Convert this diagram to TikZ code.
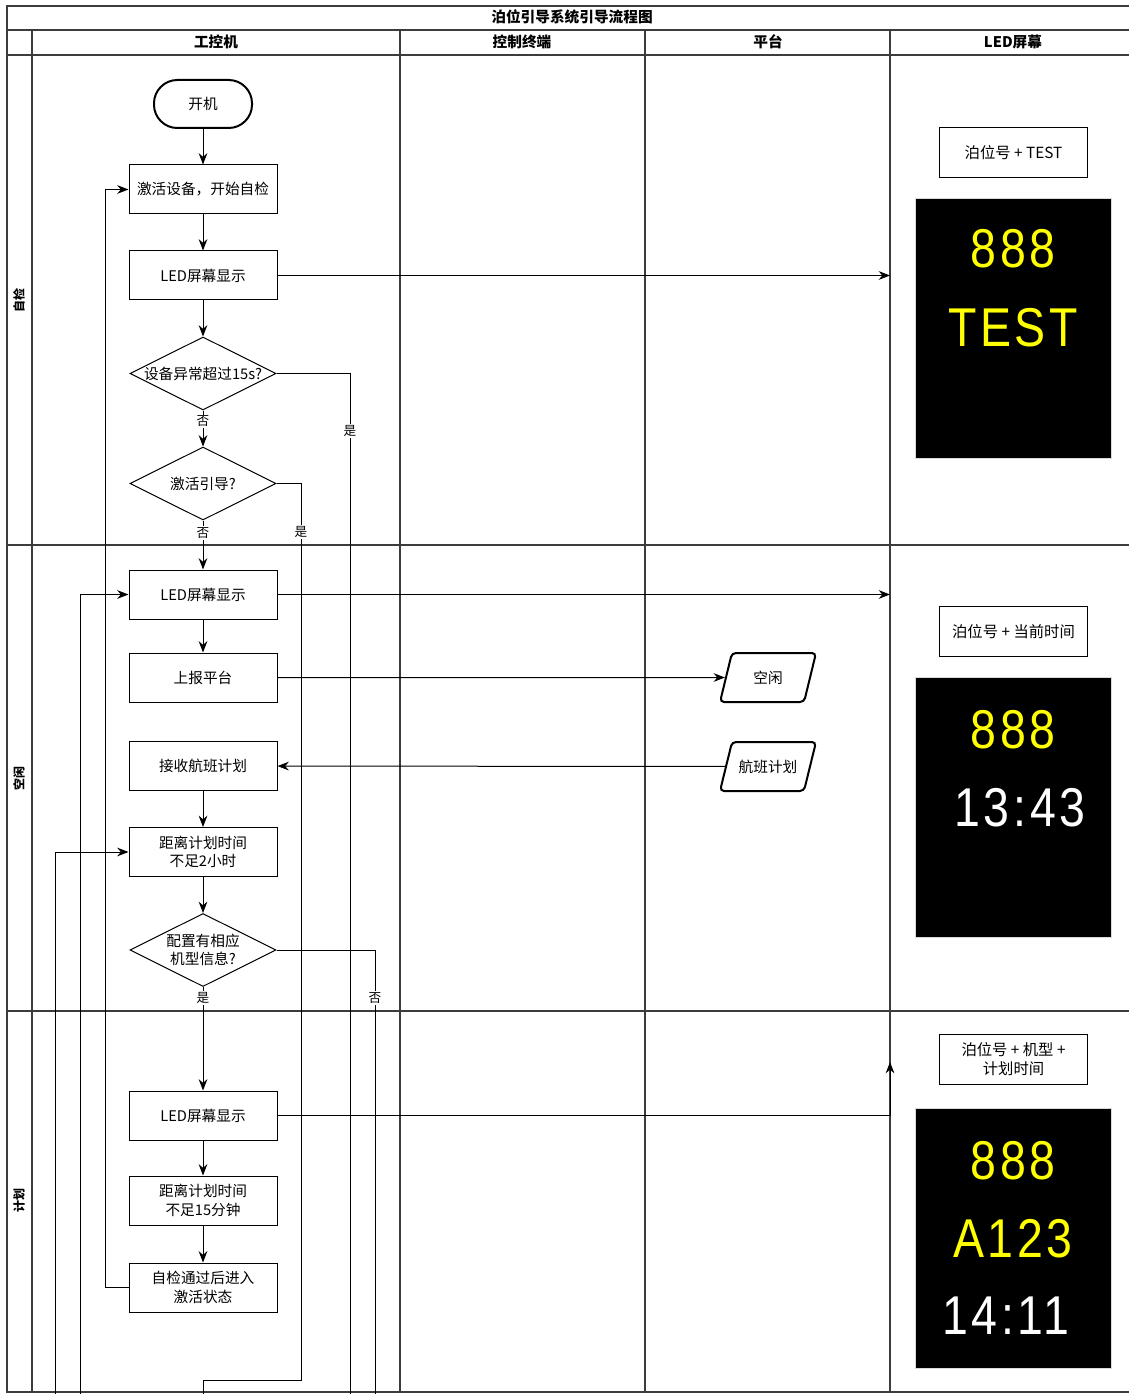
\documentclass[tikz,border=0pt]{standalone}
\usepackage{fontspec}
\setmainfont{Noto Sans CJK SC}
\newfontfamily\ledfont[LetterSpace=8]{Liberation Sans}
\usetikzlibrary{arrows.meta}
\usetikzlibrary{shapes}
\definecolor{ledyellow}{RGB}{255,255,0}
\definecolor{framegray}{RGB}{60,60,60}

\tikzset{
  flow/.style={-{Stealth[length=8.5pt,width=6.5pt]}, line width=0.75pt},
  plain/.style={line width=0.75pt},
  lane/.style={draw=framegray, line width=0.9pt},
  txt/.style={font=\fontsize{11}{14}\selectfont},
  proc/.style={draw, txt, line width=0.75pt, minimum width=111pt, minimum height=36.75pt, align=center, inner sep=1pt},
  term/.style={draw, txt, rectangle, rounded corners=17.5pt, line width=1.5pt, minimum width=73.5pt, minimum height=36pt},
  dtext/.style={txt, align=center, inner sep=0pt},
  decision/.style={draw, diamond, line width=0.75pt, minimum width=109.5pt, minimum height=54.75pt, inner sep=0pt, label={[dtext]center:#1}},
  io/.style={draw, txt, trapezium, trapezium left angle=62, trapezium right angle=118, trapezium stretches body=true, rounded corners=3pt, line width=1.5pt, minimum width=72pt, minimum height=36.75pt},
  lbl/.style={fill=white, inner sep=1pt, font=\fontsize{9.5}{9.5}\selectfont},
  capbox/.style={draw, line width=0.75pt, minimum width=111pt, minimum height=37.5pt, align=center, font=\fontsize{11.5}{14}\selectfont},
  screen/.style={fill=black, draw=black!15, minimum width=147pt, minimum height=195pt},
  ledtxt/.style={inner sep=0pt, font=\fontsize{41}{41}\ledfont},
  head/.style={font=\fontsize{11}{13}\selectfont\bfseries},
  lanename/.style={rotate=90, font=\fontsize{9}{11}\selectfont\bfseries},
}

\begin{document}
\begin{tikzpicture}[x=0.75pt,y=0.75pt,yscale=-1,xscale=1]
\useasboundingbox (0,0) rectangle (1129,1394);

%Swimlane frame
\draw [lane] (1129,6) -- (7,6) -- (7,1392) -- (1129,1392) ;
\draw [lane] (7,30) -- (1129,30) ;
\draw [lane] (7,55) -- (1129,55) ;
\draw [lane] (7,545) -- (1129,545) ;
\draw [lane] (7,1011) -- (1129,1011) ;
\foreach \lx in {32,400,645,890}
  \draw [lane] (\lx,30) -- (\lx,1392) ;

% Text Node
\node [head] (title) at (572,17) {泊位引导系统引导流程图};
\node [head] (hIpc) at (216,42) {工控机};
\node [head] (hTerm) at (522,42) {控制终端};
\node [head] (hPlat) at (768,42) {平台};
\node [head] (hLed) at (1013,42) {LED屏幕};
\node [lanename] (lnSelf) at (19,300) {自检};
\node [lanename] (lnIdle) at (19,778) {空闲};
\node [lanename] (lnPlan) at (19,1200) {计划};

%Flow nodes
\node [term] (start) at (203,104) {开机};
\node [proc] (act) at (203,189.5) {激活设备，开始自检};
\node [proc] (led1) at (203,275.5) {LED屏幕显示};
\node [decision={设备异常超过15s?}] (chk1) at (203,373.5) {};
\node [decision={激活引导?}] (chk2) at (203,483.5) {};
\node [proc] (led2) at (203,594.5) {LED屏幕显示};
\node [proc] (report) at (203,677.5) {上报平台};
\node [proc] (recv) at (203,766) {接收航班计划};
\node [proc] (near2h) at (203,852) {距离计划时间\\不足2小时};
\node [decision={配置有相应\\机型信息?}] (chk3) at (203,950) {};
\node [proc] (led3) at (203,1115.5) {LED屏幕显示};
\node [proc] (near15) at (203,1200.5) {距离计划时间\\不足15分钟};
\node [proc] (enter) at (203,1287.5) {自检通过后进入\\激活状态};
\node [io] (idle) at (768,677.5) {空闲};
\node [io] (plan) at (768,766.5) {航班计划};

%LED screens
\node [capbox] (cap1) at (1013.5,153) {泊位号 + TEST};
\node [screen] (scr1) at (1013.5,328.5) {};
\node [ledtxt, text=ledyellow] (scr1a) at (1013,249) {\scalebox{0.85}[1]{888}};
\node [ledtxt, text=ledyellow] (scr1b) at (1013,328) {\scalebox{0.85}[1]{TEST}};
\node [capbox] (cap2) at (1013.5,631.5) {泊位号 + 当前时间};
\node [screen] (scr2) at (1013.5,807) {};
\node [ledtxt, text=ledyellow] (scr2a) at (1013,730) {\scalebox{0.85}[1]{888}};
\node [ledtxt, text=white] (scr2b) at (1020,808) {\scalebox{0.85}[1]{13:43}};
\node [capbox] (cap3) at (1013.5,1059) {泊位号 + 机型 +\\计划时间};
\node [screen] (scr3) at (1013.5,1238) {};
\node [ledtxt, text=ledyellow] (scr3a) at (1013,1161) {\scalebox{0.85}[1]{888}};
\node [ledtxt, text=ledyellow] (scr3b) at (1013,1239) {\scalebox{0.85}[1]{A123}};
\node [ledtxt, text=white] (scr3c) at (1006,1316) {\scalebox{0.85}[1]{14:11}};

%Loose ends
\coordinate (in1) at (890,275.5) ;
\coordinate (in2) at (890,594.5) ;
\coordinate (in3) at (890,1062) ;
\coordinate (yesEnd) at (350,1394) ;
\coordinate (goA) at (301,1380) ;
\coordinate (goB) at (203,1380) ;
\coordinate (goEnd) at (203,1394) ;
\coordinate (noEnd) at (375,1394) ;
\coordinate (back1) at (105,1287.5) ;
\coordinate (back2) at (80,1394) ;
\coordinate (back3) at (55,1394) ;

%Connectors
\draw [flow] (start) -- (act) ;
\draw [flow] (act) -- (led1) ;
\draw [flow] (led1) -- (chk1) ;
\draw [flow] (led1.east) -- (in1) ;
\draw [flow] (chk1) -- node [lbl, pos=0.3] {否} (chk2) ;
\draw [plain] (chk1.east) -| node [lbl, pos=0.528] {是} (yesEnd) ;
\draw [plain] (chk2.east) -| node [lbl, pos=0.527] {是} (goA) -- (goB) -- (goEnd) ;
\draw [flow] (chk2) -- node [lbl, pos=0.25] {否} (led2) ;
\draw [flow] (led2) -- (report) ;
\draw [flow] (led2.east) -- (in2) ;
\draw [flow] (report) -- (idle) ;
\draw [flow] (plan) -- (recv) ;
\draw [flow] (recv) -- (near2h) ;
\draw [flow] (near2h) -- (chk3) ;
\draw [plain] (chk3.east) -| node [lbl, pos=0.554] {否} (noEnd) ;
\draw [flow] (chk3) -- node [lbl, pos=0.11] {是} (led3) ;
\draw [flow] (led3.east) -| (in3) ;
\draw [flow] (led3) -- (near15) ;
\draw [flow] (near15) -- (enter) ;
\draw [flow] (enter.west) -- (back1) |- (act.west) ;
\draw [flow] (back2) |- (led2.west) ;
\draw [flow] (back3) |- (near2h.west) ;

\end{tikzpicture}
\end{document}
